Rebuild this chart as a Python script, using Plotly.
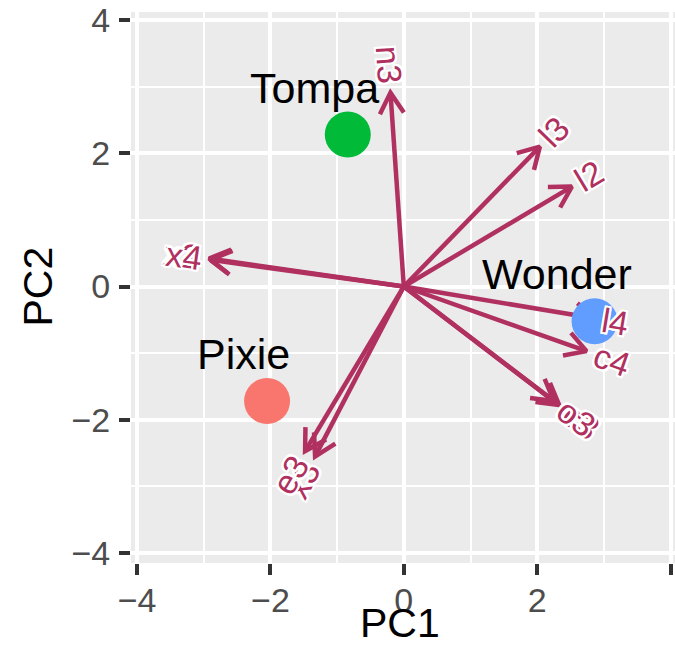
import math
import plotly.graph_objects as go

# ---------------- data ----------------
samples = ["Pixie", "Tompa", "Wonder"]
sample_pc1 = [-2.05, -0.84, 2.86]
sample_pc2 = [-1.72, 2.28, -0.52]
sample_colors = ["#F8766D", "#00BA38", "#619CFF"]

variables = ["n3", "l3", "l2", "l4", "c4", "c3", "o3", "x3", "e3", "x2", "x4"]
load_pc1 = [-0.20, 2.04, 2.52, 2.88, 2.74, 2.33, 2.25, -1.33, -1.48, -2.92, -2.90]
load_pc2 = [2.91, 2.10, 1.50, -0.48, -0.97, -1.78, -1.72, -2.55, -2.47, 0.42, 0.40]

x_ticks = [-4, -2, 0, 2, 4]
y_ticks = [-4, -2, 0, 2, 4]

# ---------------- layout geometry ----------------
W, H = 675, 662
ML, MR, MT, MB = 131, 0, 12, 99
XR = [-4.09, 4.066]
YR = [-4.15, 4.12]
ppu = (W - ML - MR) / (XR[1] - XR[0])  # pixels per data unit

FONT = "Liberation Sans, Arial, Helvetica, sans-serif"
ARROW_COL = "#B03060"
VAR_FS = 34
SAMPLE_FS = 43
TICK_FS = 34
TITLE_FS = 41

# approximate advance widths (em) for Liberation Sans
CW = {"l": 0.222, "c": 0.5, "x": 0.5, "n": 0.556, "e": 0.556, "o": 0.556,
      "a": 0.556, "T": 0.611, "m": 0.833, "p": 0.556, "P": 0.667, "i": 0.222,
      "W": 0.944, "d": 0.556, "r": 0.333}


def text_w(s, fs):
    return sum(CW.get(ch, 0.556) for ch in s) * fs


fig = go.Figure()

# arrows: shafts + open heads
wing = 24 / ppu
half = math.radians(30)
ax, ay = [], []
for x, y in zip(load_pc1, load_pc2):
    back = math.atan2(y, x) + math.pi
    ax += [0, x, None,
           x + wing * math.cos(back - half), x, x + wing * math.cos(back + half), None]
    ay += [0, y, None,
           y + wing * math.sin(back - half), y, y + wing * math.sin(back + half), None]

fig.add_trace(go.Scatter(x=ax, y=ay, mode="lines",
                         line=dict(color=ARROW_COL, width=4.5),
                         hoverinfo="skip", showlegend=False))

# sample points
fig.add_trace(go.Scatter(x=sample_pc1, y=sample_pc2, mode="markers",
                         marker=dict(size=46, color=sample_colors, line=dict(width=0)),
                         text=samples, showlegend=False))

halo = ", ".join(f"{dx}px {dy}px 0 white" for dx, dy in
                 [(2, 0), (-2, 0), (0, 2), (0, -2), (2, 2), (-2, -2), (2, -2), (-2, 2)])

annotations = []
# variable labels (ggbiplot-style placement at arrow tips)
for name, x, y in zip(variables, load_pc1, load_pc2):
    r = math.hypot(x, y)
    ux, uy = x / r, y / r
    off = 0.75 * text_w(name, VAR_FS) / ppu
    angle = -math.degrees(math.atan(y / x))
    annotations.append(dict(x=x + ux * off, y=y + uy * off, xref="x", yref="y",
                            text=name, showarrow=False, textangle=angle,
                            xanchor="center", yanchor="middle",
                            font=dict(family=FONT, size=VAR_FS, color=ARROW_COL, shadow=halo)))

# sample labels
for name, x, y in zip(samples, sample_pc1, sample_pc2):
    annotations.append(dict(x=x, y=y, xref="x", yref="y", text=name, showarrow=False,
                            xanchor="center", yanchor="middle",
                            xshift=-0.25 * text_w(name, SAMPLE_FS), yshift=47,
                            font=dict(family=FONT, size=SAMPLE_FS, color="black")))

# axis titles
annotations.append(dict(x=-0.05, y=0, xref="x", yref="paper", text="PC1", showarrow=False,
                        xanchor="center", yanchor="middle", yshift=-(623 - (H - MB)),
                        font=dict(family=FONT, size=TITLE_FS, color="black")))
annotations.append(dict(x=0, y=0, xref="paper", yref="y", text="PC2", showarrow=False,
                        xanchor="center", yanchor="middle", xshift=-(ML - 37), textangle=-90,
                        font=dict(family=FONT, size=TITLE_FS, color="black")))

axis_common = dict(
    showgrid=True, gridcolor="white", gridwidth=3.5,
    minor=dict(dtick=1, showgrid=True, gridcolor="white", gridwidth=1.8, ticks=""),
    zeroline=False, showline=False,
    ticks="outside", ticklen=11, tickwidth=3.5, tickcolor="#333333",
    tickfont=dict(family=FONT, size=TICK_FS, color="#4D4D4D"),
    tickmode="array",
)

fig.update_layout(
    width=W, height=H,
    margin=dict(l=ML, r=MR, t=MT, b=MB, autoexpand=False),
    paper_bgcolor="white", plot_bgcolor="#EBEBEB",
    xaxis=dict(range=XR, tickvals=x_ticks, ticktext=[str(v).replace("-", "\u2212") for v in x_ticks],
               ticklabelstandoff=-4, **axis_common),
    yaxis=dict(range=YR, tickvals=y_ticks, ticktext=[str(v).replace("-", "\u2212") for v in y_ticks],
               ticklabelstandoff=2, **axis_common),
    annotations=annotations,
    showlegend=False,
)

page_fix = ("document.documentElement.style.margin='0';"
            "document.body.style.margin='0';document.body.style.padding='0';"
            "document.documentElement.style.overflow='hidden';"
            "document.body.style.overflow='hidden';")

fig.write_html("out.html", post_script=page_fix, config={"displayModeBar": False})
